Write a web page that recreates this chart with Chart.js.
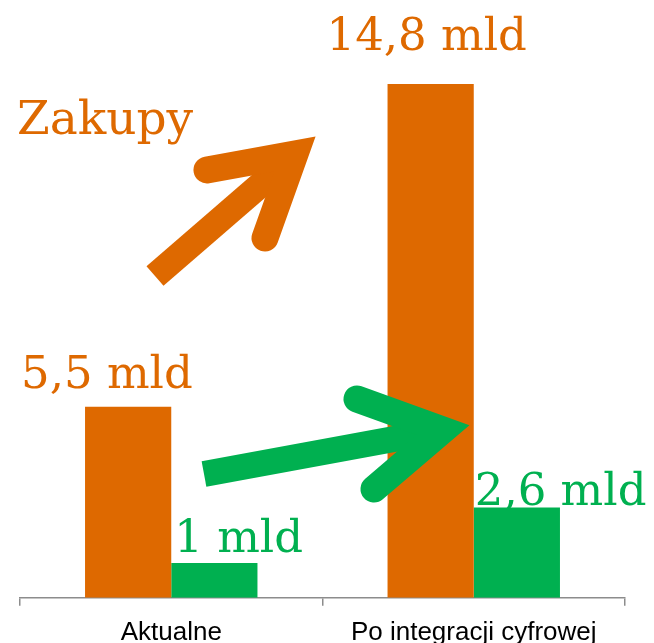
<!DOCTYPE html>
<html>
<head>
<meta charset="utf-8">
<script src="https://cdn.jsdelivr.net/npm/chart.js@4"></script>
<style>
html,body{margin:0;padding:0;background:#fff;overflow:hidden;}
#wrap{width:654px;height:643px;}
</style>
</head>
<body>
<div id="wrap"><canvas id="c" width="654" height="643"></canvas></div>
<script>
const categories = ["Aktualne", "Po integracji cyfrowej"];
const purchases = [5.5, 14.8];      // orange series
const digitalSpend = [1, 2.6];      // green series
const unit = " mld";
const headline = "Zakupy";

const ORANGE = "#DE6900";
const GREEN = "#00B050";

function fmt(v){ return v.toLocaleString("pl-PL") + unit; }

const labelPlugin = {
  id: "valueLabels",
  beforeDatasetsDraw(chart, args, opts){
    const ctx = chart.ctx;
    ctx.save();
    ctx.font = "45px 'DejaVu Serif'";
    ctx.textAlign = "left";
    ctx.textBaseline = "alphabetic";
    chart.data.datasets.forEach((ds, di) => {
      const meta = chart.getDatasetMeta(di);
      meta.data.forEach((bar, i) => {
        const off = opts.offsets[di][i];
        const left = bar.x - bar.width / 2;
        ctx.fillStyle = ds.backgroundColor;
        ctx.fillText(fmt(ds.data[i]), left + off[0], bar.y - off[1]);
      });
    });
    ctx.font = "47px 'DejaVu Serif'";
    ctx.fillStyle = ORANGE;
    ctx.fillText(headline, 17, 134);
    ctx.restore();
  },
  afterDatasetsDraw(chart){
    const ctx = chart.ctx;
    function arrow(color, shaftFrom, shaftTo, armA, vertex, armB){
      ctx.save();
      ctx.strokeStyle = color;
      ctx.lineWidth = 26;
      ctx.lineCap = "butt";
      ctx.beginPath();
      ctx.moveTo(shaftFrom[0], shaftFrom[1]);
      ctx.lineTo(shaftTo[0], shaftTo[1]);
      ctx.stroke();
      ctx.lineWidth = 27;
      ctx.lineCap = "round";
      ctx.lineJoin = "miter";
      ctx.miterLimit = 10;
      ctx.beginPath();
      ctx.moveTo(armA[0], armA[1]);
      ctx.lineTo(vertex[0], vertex[1]);
      ctx.lineTo(armB[0], armB[1]);
      ctx.stroke();
      ctx.restore();
    }
    arrow(ORANGE, [155,276], [296,154], [207,170], [295,154], [265,238]);
    arrow(GREEN, [204,474], [443,430], [357,399], [443,430], [374,489]);
  }
};

new Chart(document.getElementById("c"), {
  type: "bar",
  data: {
    labels: categories,
    datasets: [
      { data: purchases, backgroundColor: ORANGE, borderWidth: 0 },
      { data: digitalSpend, backgroundColor: GREEN, borderWidth: 0 }
    ]
  },
  options: {
    responsive: false,
    animation: false,
    events: [],
    layout: { padding: { left: 20, right: 29, top: 0, bottom: -16 } },
    datasets: { bar: { categoryPercentage: 0.57, barPercentage: 1.0 } },
    plugins: {
      legend: { display: false },
      tooltip: { enabled: false },
      valueLabels: { offsets: [[[-64, 19], [-61, 34]], [[3, 11], [1, 3]]] }
    },
    scales: {
      x: {
        offset: true,
        grid: { display: true, offset: true, drawOnChartArea: false, drawTicks: true, tickLength: 8, color: "#8C8C8C", lineWidth: 1.5 },
        border: { display: true, color: "#8C8C8C", width: 1.5 },
        ticks: { color: "#000000", padding: 11, maxRotation: 0, font: { family: "'Liberation Sans', Arial, sans-serif", size: 26 } }
      },
      y: { display: false, min: 0, max: 17.22 }
    }
  },
  plugins: [labelPlugin]
});
</script>
</body>
</html>
